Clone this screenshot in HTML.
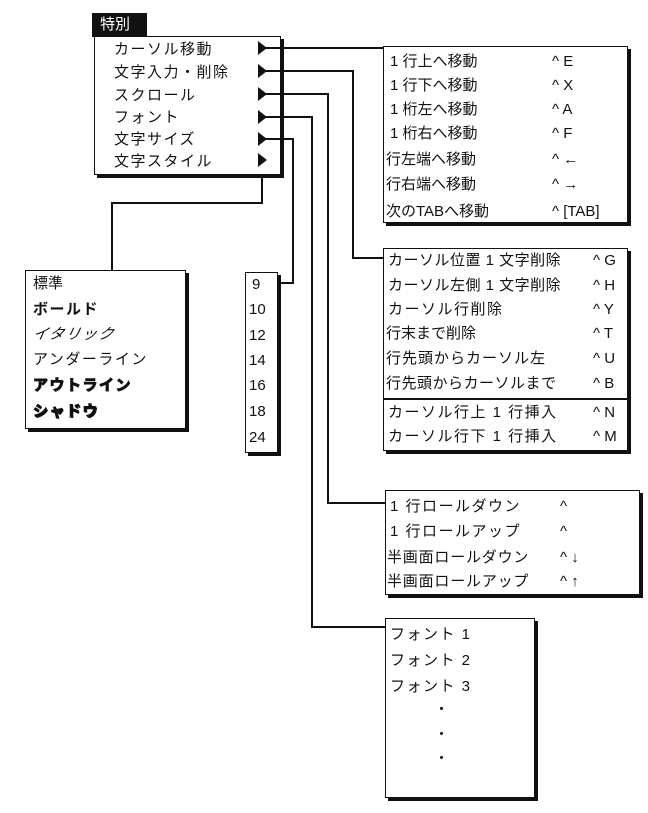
<!DOCTYPE html>
<html><head><meta charset="utf-8"><style>
body{margin:0;width:648px;height:813px;background:#fff;position:relative;overflow:hidden;font-family:"Liberation Sans","Noto Sans CJK JP",sans-serif;font-size:15px;color:#111}
.b{position:absolute;border:1.5px solid #111;background:#fff;box-shadow:3px 3px 0 #111;box-sizing:border-box}
.t{position:absolute;white-space:nowrap;line-height:18px;margin-top:2px}
.s{letter-spacing:1.5px}
.l{position:absolute;background:#111}
.tri{position:absolute;width:0;height:0;border-top:7px solid transparent;border-bottom:7px solid transparent;border-left:9px solid #111}
</style></head><body>
<div style="position:absolute;left:92px;top:13px;width:55px;height:24px;background:#111;color:#fff;font-size:15px;line-height:24px;padding-left:8px;box-sizing:border-box">特別</div>
<div class="b" style="left:94px;top:36px;width:187px;height:139px"></div>
<div class="t s" style="left:114px;top:39px">カーソル移動</div>
<div class="t s" style="left:114px;top:62px">文字入力・削除</div>
<div class="t s" style="left:114px;top:85px">スクロール</div>
<div class="t s" style="left:114px;top:107px">フォント</div>
<div class="t s" style="left:114px;top:129px">文字サイズ</div>
<div class="t s" style="left:114px;top:151px">文字スタイル</div>
<div class="tri" style="left:258px;top:41px"></div>
<div class="tri" style="left:258px;top:64px"></div>
<div class="tri" style="left:258px;top:87px"></div>
<div class="tri" style="left:258px;top:110px"></div>
<div class="tri" style="left:258px;top:132px"></div>
<div class="tri" style="left:258px;top:153px"></div>
<div class="l" style="left:266px;top:47px;width:118px;height:2px"></div>
<div class="l" style="left:266px;top:70px;width:88px;height:2px"></div>
<div class="l" style="left:352px;top:70px;width:2px;height:189px"></div>
<div class="l" style="left:352px;top:257px;width:32px;height:2px"></div>
<div class="l" style="left:266px;top:93px;width:63px;height:2px"></div>
<div class="l" style="left:327px;top:93px;width:2px;height:411px"></div>
<div class="l" style="left:327px;top:502px;width:58px;height:2px"></div>
<div class="l" style="left:266px;top:116px;width:47px;height:2px"></div>
<div class="l" style="left:311px;top:116px;width:2px;height:512px"></div>
<div class="l" style="left:311px;top:626px;width:74px;height:2px"></div>
<div class="l" style="left:266px;top:138px;width:28px;height:2px"></div>
<div class="l" style="left:292px;top:138px;width:2px;height:146px"></div>
<div class="l" style="left:277px;top:282px;width:17px;height:2px"></div>
<div class="l" style="left:261px;top:174px;width:2px;height:30px"></div>
<div class="l" style="left:111px;top:202px;width:152px;height:2px"></div>
<div class="l" style="left:111px;top:202px;width:2px;height:69px"></div>
<div class="b" style="left:383px;top:46px;width:245px;height:177px"></div>
<div class="t" style="left:390px;top:51px">1 行上へ移動</div><div class="t" style="left:552px;top:51px">^ E</div>
<div class="t" style="left:390px;top:75px">1 行下へ移動</div><div class="t" style="left:552px;top:75px">^ X</div>
<div class="t" style="left:390px;top:99px">1 桁左へ移動</div><div class="t" style="left:552px;top:99px">^ A</div>
<div class="t" style="left:390px;top:123px">1 桁右へ移動</div><div class="t" style="left:552px;top:123px">^ F</div>
<div class="t" style="left:386px;top:149px">行左端へ移動</div><div class="t" style="left:552px;top:149px">^ ←</div>
<div class="t" style="left:386px;top:174px">行右端へ移動</div><div class="t" style="left:552px;top:174px">^ →</div>
<div class="t" style="left:386px;top:201px">次のTABへ移動</div><div class="t" style="left:552px;top:201px">^ [TAB]</div>
<div class="b" style="left:383px;top:248px;width:245px;height:203px"></div>
<div class="t s" style="left:388px;top:250px;letter-spacing:0.5px">カーソル位置 1 文字削除</div><div class="t" style="left:593px;top:250px">^ G</div>
<div class="t s" style="left:388px;top:275px;letter-spacing:0.5px">カーソル左側 1 文字削除</div><div class="t" style="left:593px;top:275px">^ H</div>
<div class="t s" style="left:388px;top:299px">カーソル行削除</div><div class="t" style="left:593px;top:299px">^ Y</div>
<div class="t" style="left:386px;top:323px">行末まで削除</div><div class="t" style="left:593px;top:323px">^ T</div>
<div class="t s" style="left:386px;top:348px;letter-spacing:1px">行先頭からカーソル左</div><div class="t" style="left:593px;top:348px">^ U</div>
<div class="t" style="left:386px;top:373px;letter-spacing:0.5px">行先頭からカーソルまで</div><div class="t" style="left:593px;top:373px">^ B</div>
<div class="l" style="left:383px;top:398px;width:245px;height:1.5px"></div>
<div class="t s" style="left:388px;top:402px">カーソル行上 1 行挿入</div><div class="t" style="left:593px;top:402px">^ N</div>
<div class="t s" style="left:388px;top:426px">カーソル行下 1 行挿入</div><div class="t" style="left:593px;top:426px">^ M</div>
<div class="b" style="left:385px;top:490px;width:255px;height:105px"></div>
<div class="t s" style="left:390px;top:496px">1 行ロールダウン</div><div class="t" style="left:560px;top:496px">^</div>
<div class="t s" style="left:390px;top:521px">1 行ロールアップ</div><div class="t" style="left:560px;top:521px">^</div>
<div class="t s" style="left:387px;top:547px;letter-spacing:0.8px">半画面ロールダウン</div><div class="t" style="left:560px;top:547px">^ ↓</div>
<div class="t s" style="left:387px;top:571px;letter-spacing:0.8px">半画面ロールアップ</div><div class="t" style="left:560px;top:571px">^ ↑</div>
<div class="b" style="left:385px;top:618px;width:150px;height:180px"></div>
<div class="t s" style="left:390px;top:624px">フォント 1</div>
<div class="t s" style="left:390px;top:650px">フォント 2</div>
<div class="t s" style="left:390px;top:676px">フォント 3</div>
<div class="t" style="left:434px;top:699px">・</div>
<div class="t" style="left:434px;top:724px">・</div>
<div class="t" style="left:434px;top:748px">・</div>
<div class="b" style="left:25px;top:270px;width:161px;height:159px"></div>
<div class="t" style="left:33px;top:273px">標準</div>
<div class="t s" style="left:33px;top:299px;font-weight:bold">ボールド</div>
<div class="t s" style="left:33px;top:324px;font-style:italic;transform:skewX(-12deg)">イタリック</div>
<div class="t s" style="left:33px;top:349px">アンダーライン</div>
<div class="t s" style="left:33px;top:375px;font-weight:bold;-webkit-text-stroke:1px #111">アウトライン</div>
<div class="t s" style="left:33px;top:401px;font-weight:bold;-webkit-text-stroke:1px #111;text-shadow:1px 1px 0 #111">シャドウ</div>
<div class="b" style="left:245px;top:272px;width:33px;height:181px"></div>
<div class="t" style="left:252px;top:274px">9</div>
<div class="t" style="left:249px;top:299px">10</div>
<div class="t" style="left:249px;top:325px">12</div>
<div class="t" style="left:249px;top:350px">14</div>
<div class="t" style="left:249px;top:375px">16</div>
<div class="t" style="left:249px;top:401px">18</div>
<div class="t" style="left:249px;top:427px">24</div>
</body></html>
